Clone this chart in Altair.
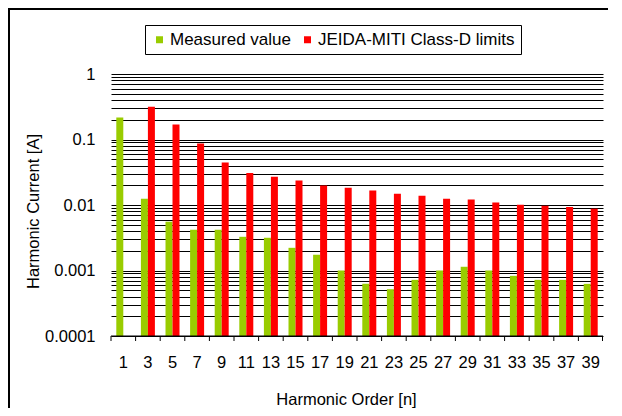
import altair as alt
import pandas as pd

orders = [1, 3, 5, 7, 9, 11, 13, 15, 17, 19, 21, 23, 25, 27, 29, 31, 33, 35, 37, 39]
measured = [0.217, 0.0125, 0.00556, 0.00419, 0.00419, 0.00327, 0.00316, 0.00222,
            0.00174, 0.00100, 0.000625, 0.000518, 0.000720, 0.00100, 0.00114,
            0.00100, 0.000829, 0.000720, 0.000720, 0.000625]
limits = [None, 0.316, 0.170, 0.0869, 0.0445, 0.0309, 0.0271, 0.0236, 0.0198,
          0.0184, 0.0166, 0.0149, 0.0139, 0.0125, 0.0121, 0.0109, 0.0101,
          0.00977, 0.00932, 0.00879]
series_names = ["Measured value", "JEIDA-MITI Class-D limits"]
series_colors = ["#99CC00", "#FF0000"]

y_ticks = []
for e in [-4, -3, -2, -1]:
    for m in range(1, 10):
        y_ticks.append(float(f"{m}e{e}"))
y_ticks.append(1.0)

rows = []
for o, mv, lv in zip(orders, measured, limits):
    rows.append({"h": str(o), "series": series_names[0], "value": mv})
    if lv is not None:
        rows.append({"h": str(o), "series": series_names[1], "value": lv})
df = pd.DataFrame(rows)
df_h = pd.DataFrame({"h": [str(o) for o in orders]})

W = 492
H = 280      # view height
YB = 262     # pixel position of 0.0001 (bottom of the bars)
FONT = "Liberation Sans"
h_sort = [str(o) for o in orders]

bars = alt.Chart(df).mark_bar().encode(
    x=alt.X(
        "h:N",
        sort=h_sort,
        scale=alt.Scale(paddingInner=0, paddingOuter=0),
        axis=alt.Axis(
            title="Harmonic Order [n]",
            labelAngle=0,
            ticks=False,
            domain=False,
            grid=False,
            labelPadding=0,
            labelFontSize=16.5,
            titleFontSize=16.5,
            titleFontWeight="normal",
            titleX=235,
            titlePadding=20.5,
        ),
    ),
    xOffset=alt.XOffset(
        "series:N",
        sort=series_names,
        scale=alt.Scale(paddingInner=0, paddingOuter=0.757),
    ),
    y=alt.Y(
        "value:Q",
        stack=None,
        scale=alt.Scale(type="log", domain=[0.0001, 1], nice=False, range=[YB, 0]),
        axis=alt.Axis(
            title="Harmonic Current [A]",
            values=y_ticks,
            labelExpr="abs(log(datum.value)/LN10 - round(log(datum.value)/LN10)) < 0.001 ? '' + datum.value : ''",
            grid=True,
            gridColor="black",
            gridWidth=1,
            ticks=False,
            domain=False,
            labelPadding=16,
            labelFontSize=16.5,
            titleFontSize=16.5,
            titleFontWeight="normal",
            titlePadding=3,
            titleY=137,
        ),
    ),
    y2=alt.datum(0.0001),
    color=alt.Color(
        "series:N",
        scale=alt.Scale(domain=series_names, range=series_colors),
        legend=alt.Legend(
            title=None,
            orient="none",
            legendX=34,
            legendY=-49,
            direction="horizontal",
            symbolType="square",
            symbolSize=49,
            symbolStrokeWidth=0,
            labelFontSize=17,
            labelOffset=2,
            labelLimit=400,
            columnPadding=8,
            padding=6,
            strokeColor="black",
            fillColor="white",
        ),
    ),
)

one = alt.Data(values=[{}])
baseline = alt.Chart(one).mark_rule(color="black", strokeWidth=1).encode(
    x=alt.value(0), x2=alt.value(W), y=alt.value(YB)
)
tick_rules = alt.Chart(df_h).mark_rule(color="black", strokeWidth=1).encode(
    x=alt.X("h:N", sort=h_sort, bandPosition=0),
    y=alt.value(YB),
    y2=alt.value(YB + 5),
)
end_tick = alt.Chart(one).mark_rule(color="black", strokeWidth=1).encode(
    x=alt.value(W - 0.5), y=alt.value(YB), y2=alt.value(YB + 5)
)
border_top = alt.Chart(one).mark_rule(color="black", strokeWidth=2).encode(
    x=alt.value(-103), x2=alt.value(W + 10), y=alt.value(-65)
)
border_left = alt.Chart(one).mark_rule(color="black", strokeWidth=2).encode(
    x=alt.value(-102), y=alt.value(-67), y2=alt.value(H + 70)
)

chart = alt.layer(bars, baseline, tick_rules, end_tick, border_top, border_left).properties(
    width=W,
    height=H,
    autosize=alt.AutoSizeParams(type="none"),
    padding={"left": 103, "top": 66, "right": 5, "bottom": 54},
).configure(
    font=FONT,
).configure_view(
    stroke=None,
).configure_axis(
    labelColor="black",
    titleColor="black",
    labelFont=FONT,
    titleFont=FONT,
).configure_legend(
    labelFont=FONT,
    labelColor="black",
)

chart.save("out.html", embed_options={"renderer": "svg", "actions": False})
